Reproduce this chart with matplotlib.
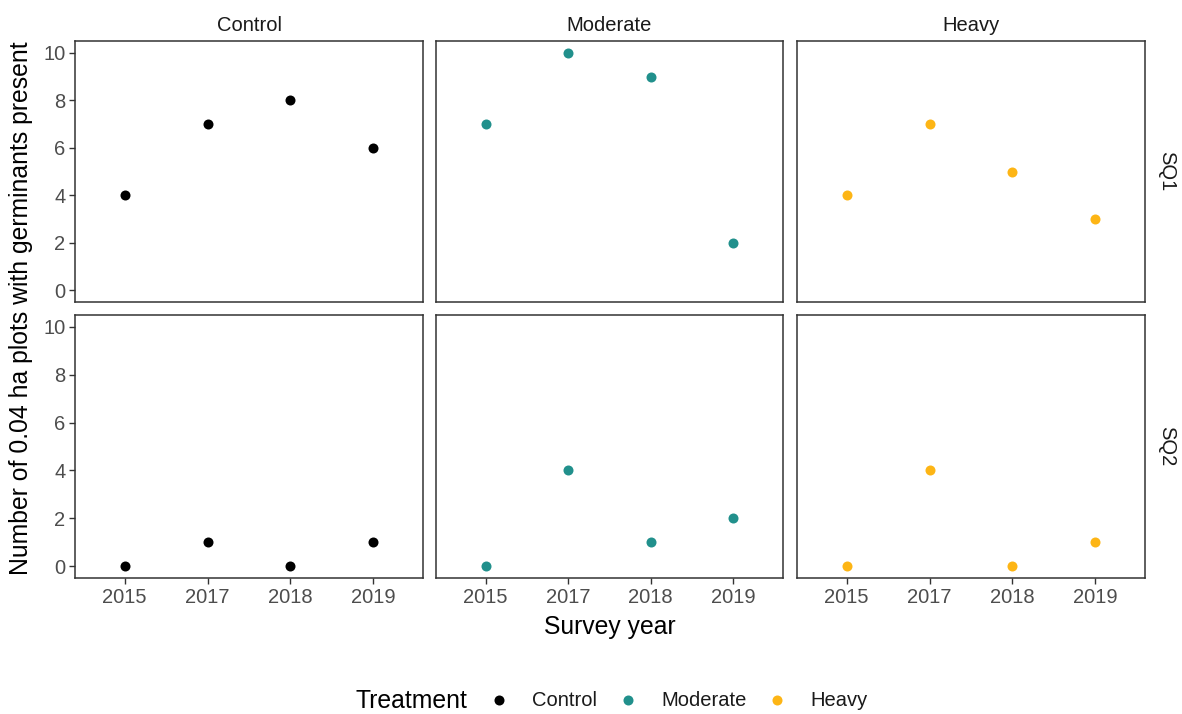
import matplotlib
matplotlib.use('Agg')
import matplotlib.pyplot as plt

plt.rcParams['font.family'] = ['Liberation Sans', 'DejaVu Sans']

# data
years = ['2015', '2017', '2018', '2019']
treatments = ['Control', 'Moderate', 'Heavy']
sites = ['SQ1', 'SQ2']
counts = {
    ('SQ1', 'Control'): [4, 7, 8, 6],
    ('SQ1', 'Moderate'): [7, 10, 9, 2],
    ('SQ1', 'Heavy'): [4, 7, 5, 3],
    ('SQ2', 'Control'): [0, 1, 0, 1],
    ('SQ2', 'Moderate'): [0, 4, 1, 2],
    ('SQ2', 'Heavy'): [0, 4, 0, 1],
}
colors = {'Control': '#000000', 'Moderate': '#21908C', 'Heavy': '#FDB515'}

W, H = 1182, 714
fig = plt.figure(figsize=(W / 100, H / 100), dpi=100)

col_x = [(75, 423), (436, 783), (797, 1145)]
row_y = [(41, 302), (315, 578)]
tick_col = '#4D4D4D'
small = 14.5
big = 17.8

for r, site in enumerate(sites):
    for c, tr in enumerate(treatments):
        x0, x1 = col_x[c]
        y0, y1 = row_y[r]
        ax = fig.add_axes([x0 / W, 1 - y1 / H, (x1 - x0) / W, (y1 - y0) / H])
        xs = range(len(years))
        ax.scatter(xs, counts[(site, tr)], s=52, color=colors[tr], zorder=3, linewidths=0)
        ax.set_xlim(-0.6, len(years) - 0.4)
        ax.set_ylim(-0.5, 10.5)
        ax.set_xticks(list(xs))
        ax.set_yticks([0, 2, 4, 6, 8, 10])
        for s in ax.spines.values():
            s.set_color('#333333')
            s.set_linewidth(1.1)
        ax.tick_params(colors='#333333', labelcolor=tick_col, labelsize=small,
                       length=4, width=1, pad=3)
        if c != 0:
            ax.tick_params(axis='y', left=False, labelleft=False)
        if r == 1:
            ax.set_xticklabels(years)
        else:
            ax.tick_params(axis='x', bottom=False, labelbottom=False)
        if r == 0:
            ax.set_title(tr, fontsize=small, color='#1A1A1A', pad=7)
        if c == 2:
            ax.text(1.035, 0.5, site, transform=ax.transAxes, rotation=270,
                    va='center', ha='left', fontsize=small, color='#1A1A1A')

fig.text(610 / W, 1 - 627 / H, 'Survey year', ha='center', va='center', fontsize=big)
fig.text(21 / W, 1 - 308 / H, 'Number of 0.04 ha plots with germinants present',
         ha='center', va='center', rotation=90, fontsize=big)

# legend drawn by hand: title on the left, keys in a row
lax = fig.add_axes([0, 0, 1, 1], zorder=-1)
lax.set_xlim(0, W)
lax.set_ylim(H, 0)
lax.axis('off')
lax.text(355, 701, 'Treatment', ha='left', va='center', fontsize=big)
key_x = [499, 628, 777]
for kx, tr in zip(key_x, treatments):
    lax.scatter([kx], [700], s=52, color=colors[tr], linewidths=0)
    lax.text(kx + 33, 701, tr, ha='left', va='center', fontsize=small, color='#1A1A1A')

fig.savefig('out.png', dpi=100)
